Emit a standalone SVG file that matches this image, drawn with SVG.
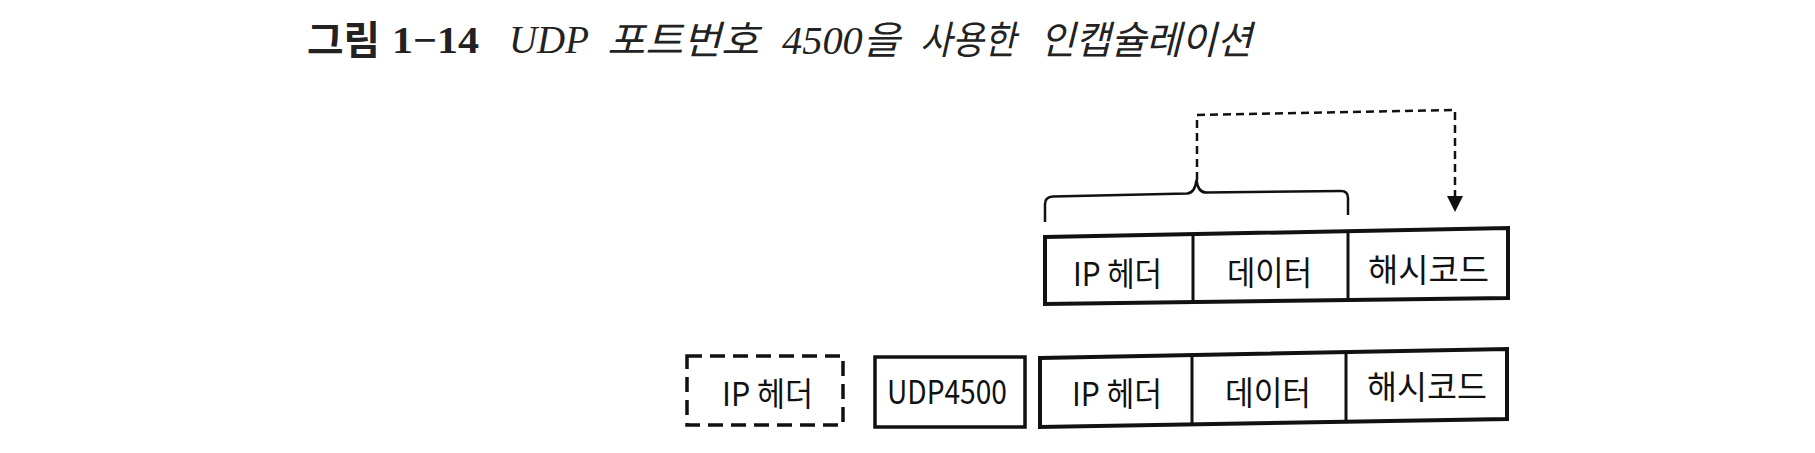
<svg xmlns="http://www.w3.org/2000/svg" width="1815" height="453" viewBox="0 0 1815 453">
  <defs>
    <marker id="arrow" viewBox="0 0 10 10" refX="0" refY="5" markerUnits="userSpaceOnUse" markerWidth="16" markerHeight="16" orient="auto">
      <path d="M0,0 L10,5 L0,10 z" fill="#111"/>
    </marker>
    <style>
      .box { fill: #fff; stroke: #111; stroke-width: 4; stroke-linejoin: miter; }
      .thin { fill: none; stroke: #111; stroke-width: 3.5; }
      .div { stroke: #111; stroke-width: 3; }
      .dbox { fill: none; stroke: #111; stroke-width: 3.5; stroke-dasharray: 15 8; }
      .lbl { font-family: "Noto Sans CJK KR", "Noto Sans", sans-serif; font-size: 33px; fill: #111; }
      .ttl-b { font-family: "Noto Sans CJK KR", sans-serif; font-weight: bold; font-size: 39px; fill: #222; }
      .ttl-n { font-family: "Liberation Serif", serif; font-weight: bold; font-size: 38px; fill: #222; }
      .ttl-i { font-family: "Liberation Serif", "Noto Sans CJK KR", serif; font-style: italic; font-size: 39px; fill: #222; }
      .conn { fill: none; stroke: #111; stroke-width: 2.5; stroke-dasharray: 8 5; }
      .brace { fill: none; stroke: #111; stroke-width: 2.5; }
    </style>
  </defs>
  <rect width="1815" height="453" fill="#fff"/>

  <g id="title">
    <text class="ttl-b" x="307" y="54" textLength="73" lengthAdjust="spacingAndGlyphs">그림</text>
    <text class="ttl-n" x="392" y="53" textLength="87" lengthAdjust="spacingAndGlyphs">1−14</text>
    <text class="ttl-i" x="509" y="53" textLength="80" lengthAdjust="spacingAndGlyphs">UDP</text>
    <text class="ttl-i" x="607" y="54" textLength="152" lengthAdjust="spacingAndGlyphs">포트번호</text>
    <text class="ttl-i" x="782" y="54" textLength="118" lengthAdjust="spacingAndGlyphs">4500을</text>
    <text class="ttl-i" x="920" y="54" textLength="96" lengthAdjust="spacingAndGlyphs">사용한</text>
    <text class="ttl-i" x="1040" y="54" textLength="212" lengthAdjust="spacingAndGlyphs">인캡슐레이션</text>
  </g>

  <g id="node-top-packet">
    <polygon class="box" points="1045,237 1508,228 1508,298 1045,304"/>
    <line class="div" x1="1193" y1="234" x2="1193" y2="302.5"/>
    <line class="div" x1="1348" y1="231" x2="1348" y2="300"/>
    <text class="lbl" x="1073" y="286" textLength="89" lengthAdjust="spacingAndGlyphs">IP 헤더</text>
    <text class="lbl" x="1227" y="285" textLength="85" lengthAdjust="spacingAndGlyphs">데이터</text>
    <text class="lbl" x="1368" y="282" textLength="121" lengthAdjust="spacingAndGlyphs">해시코드</text>
  </g>

  <g id="node-outer-ip">
    <rect class="dbox" x="687" y="356" width="156" height="69"/>
    <text class="lbl" x="722" y="406" textLength="91" lengthAdjust="spacingAndGlyphs">IP 헤더</text>
  </g>

  <g id="node-udp4500">
    <rect class="thin" x="875" y="357" width="150" height="70"/>
    <text class="lbl" x="887" y="404" textLength="120" lengthAdjust="spacingAndGlyphs">UDP4500</text>
  </g>

  <g id="node-bottom-packet">
    <polygon class="box" points="1040,358 1507,349 1507,419 1040,427"/>
    <line class="div" x1="1192" y1="355" x2="1192" y2="425"/>
    <line class="div" x1="1346" y1="352" x2="1346" y2="421"/>
    <text class="lbl" x="1072" y="406" textLength="90" lengthAdjust="spacingAndGlyphs">IP 헤더</text>
    <text class="lbl" x="1225" y="405" textLength="86" lengthAdjust="spacingAndGlyphs">데이터</text>
    <text class="lbl" x="1367" y="399" textLength="120" lengthAdjust="spacingAndGlyphs">해시코드</text>
  </g>

  <g id="connectors">
    <path class="brace" d="M1045,222 L1045,204 Q1045,197 1053,196.5 L1187,193.5 Q1195,193 1196.5,180 Q1198,192.5 1206,192.5 L1341,191 Q1348,191 1348,198 L1348,215"/>
    <path class="conn" d="M1197,180 L1197,115 L1455,110 L1455,196" marker-end="url(#arrow)"/>
  </g>
</svg>
